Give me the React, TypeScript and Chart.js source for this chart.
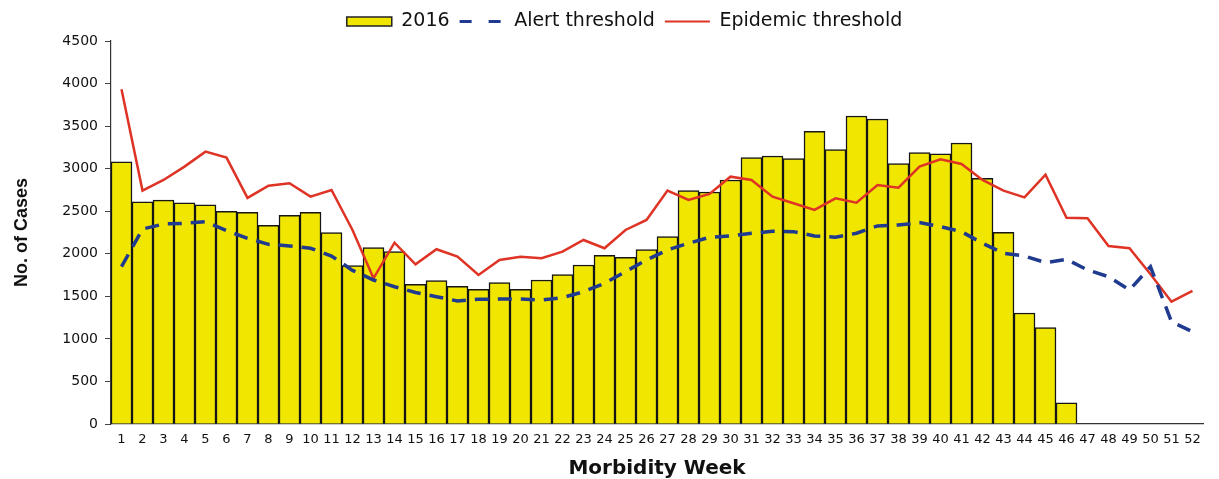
import React, { useEffect, useRef } from "react";
import { Chart, registerables } from "chart.js";

Chart.register(...registerables);

const weeks: string[] = Array.from({ length: 52 }, (_, i) => String(i + 1));

const cases2016: (number | null)[] = [
  3080, 2610, 2630, 2600, 2575, 2500, 2488, 2335, 2452, 2488,
  2248, 1860, 2072, 2025, 1641, 1684, 1618, 1583, 1661, 1583,
  1692, 1755, 1868, 1982, 1959, 2048, 2201, 2742, 2726, 2867,
  3130, 3149, 3118, 3439, 3223, 3619, 3584, 3059, 3188, 3173,
  3302, 2887, 2252, 1304, 1132, 250,
];

const alertThreshold: number[] = [
  1848, 2290, 2350, 2358, 2377, 2272, 2182, 2111, 2092, 2065,
  1974, 1805, 1692, 1613, 1545, 1496, 1445, 1465, 1469, 1469,
  1457, 1484, 1554, 1653, 1790, 1927, 2045, 2123, 2194, 2209,
  2241, 2264, 2260, 2210, 2194, 2241, 2327, 2338, 2366, 2319,
  2260, 2123, 2006, 1974, 1896, 1935, 1810, 1731, 1575, 1848,
  1202, 1085,
];

const epidemicThreshold: number[] = [
  3933, 2742, 2867, 3024, 3200, 3130, 2656, 2800, 2828, 2671,
  2750, 2280, 1712, 2130, 1876, 2053, 1966, 1751, 1927, 1966,
  1947, 2025, 2162, 2065, 2280, 2397, 2742, 2632, 2703, 2906,
  2867, 2671, 2593, 2515, 2652, 2600, 2808, 2777, 3024, 3110,
  3055, 2867, 2742, 2663, 2930, 2424, 2417, 2092, 2065, 1760,
  1437, 1563,
];

const seriesLabels = ["2016", "Alert threshold", "Epidemic threshold"];

const YELLOW = "#F0E600";
const NAVY = "#1F3A8E";
const RED = "#DE3325";
const TEXT = "#111111";
const FONT = "'DejaVu Sans', sans-serif";

export default function App() {
  const canvasRef = useRef<HTMLCanvasElement | null>(null);

  useEffect(() => {
    if (!canvasRef.current) return;
    const chart = new Chart(canvasRef.current, {
      type: "bar",
      data: {
        labels: weeks,
        datasets: [
          {
            type: "bar",
            label: seriesLabels[0],
            data: cases2016,
            backgroundColor: YELLOW,
            borderColor: "#151515",
            borderWidth: 1.5,
            barPercentage: 1,
            categoryPercentage: 1,
            order: 3,
          },
          {
            type: "line",
            label: seriesLabels[1],
            data: alertThreshold,
            borderColor: NAVY,
            borderWidth: 3.5,
            borderDash: [14, 9],
            pointRadius: 0,
            tension: 0,
            fill: false,
            order: 1,
          },
          {
            type: "line",
            label: seriesLabels[2],
            data: epidemicThreshold,
            borderColor: RED,
            borderWidth: 2.5,
            pointRadius: 0,
            tension: 0,
            fill: false,
            order: 2,
          },
        ] as any,
      },
      options: {
        animation: false,
        responsive: false,
        maintainAspectRatio: false,
        layout: { padding: { left: 46, right: 16, top: 2, bottom: 0 } },
        plugins: {
          tooltip: { enabled: false },
          legend: {
            display: true,
            position: "top",
            align: "center",
            labels: {
              color: TEXT,
              font: { family: FONT, size: 19 },
              usePointStyle: true,
              pointStyleWidth: 45,
              boxHeight: 9,
              padding: 10,
              generateLabels: (c: any) => [
                {
                  text: seriesLabels[0],
                  fillStyle: YELLOW,
                  strokeStyle: "#222",
                  lineWidth: 1.5,
                  pointStyle: "rect",
                  datasetIndex: 0,
                  hidden: false,
                  fontColor: TEXT,
                },
                {
                  text: seriesLabels[1],
                  fillStyle: "rgba(0,0,0,0)",
                  strokeStyle: NAVY,
                  lineWidth: 3,
                  lineDash: [12, 17],
                  pointStyle: "line",
                  datasetIndex: 1,
                  hidden: false,
                  fontColor: TEXT,
                },
                {
                  text: seriesLabels[2],
                  fillStyle: "rgba(0,0,0,0)",
                  strokeStyle: RED,
                  lineWidth: 2,
                  pointStyle: "line",
                  datasetIndex: 2,
                  hidden: false,
                  fontColor: TEXT,
                },
              ],
            },
          },
        },
        scales: {
          x: {
            grid: { display: false, drawTicks: true, tickLength: 8 },
            border: { display: true, color: "#333", width: 1.2 },
            ticks: {
              color: TEXT,
              font: { family: FONT, size: 13 },
              autoSkip: false,
              maxRotation: 0,
              minRotation: 0,
              padding: 0,
            },
            title: {
              display: true,
              text: "Morbidity Week",
              color: TEXT,
              font: { family: FONT, size: 20, weight: "bold" },
              padding: { top: 0, bottom: -2 },
            },
            afterFit: (scale: any) => {
              scale.height = 55;
            },
          },
          y: {
            min: 0,
            max: 4500,
            ticks: {
              stepSize: 500,
              color: TEXT,
              font: { family: FONT, size: 14 },
              padding: 7,
              callback: (v: any) => String(v),
            },
            grid: {
              drawOnChartArea: false,
              drawTicks: true,
              tickLength: 6,
              color: "#444",
            },
            border: { display: true, color: "#333", width: 1.2 },
            title: {
              display: true,
              text: "No. of Cases",
              color: TEXT,
              font: {
                family: "'Liberation Sans', sans-serif",
                size: 18,
                weight: "bold",
              },
              padding: { top: -35, bottom: 0 },
            },
            afterFit: (scale: any) => {
              scale.width = 65;
            },
          },
        },
      } as any,
    });
    return () => chart.destroy();
  }, []);

  return (
    <div style={{ position: "fixed", left: 0, top: 0, width: 1219, height: 479, background: "#fff" }}>
      <canvas ref={canvasRef} width={1219} height={479} style={{ width: 1219, height: 479, display: "block" }} />
    </div>
  );
}
